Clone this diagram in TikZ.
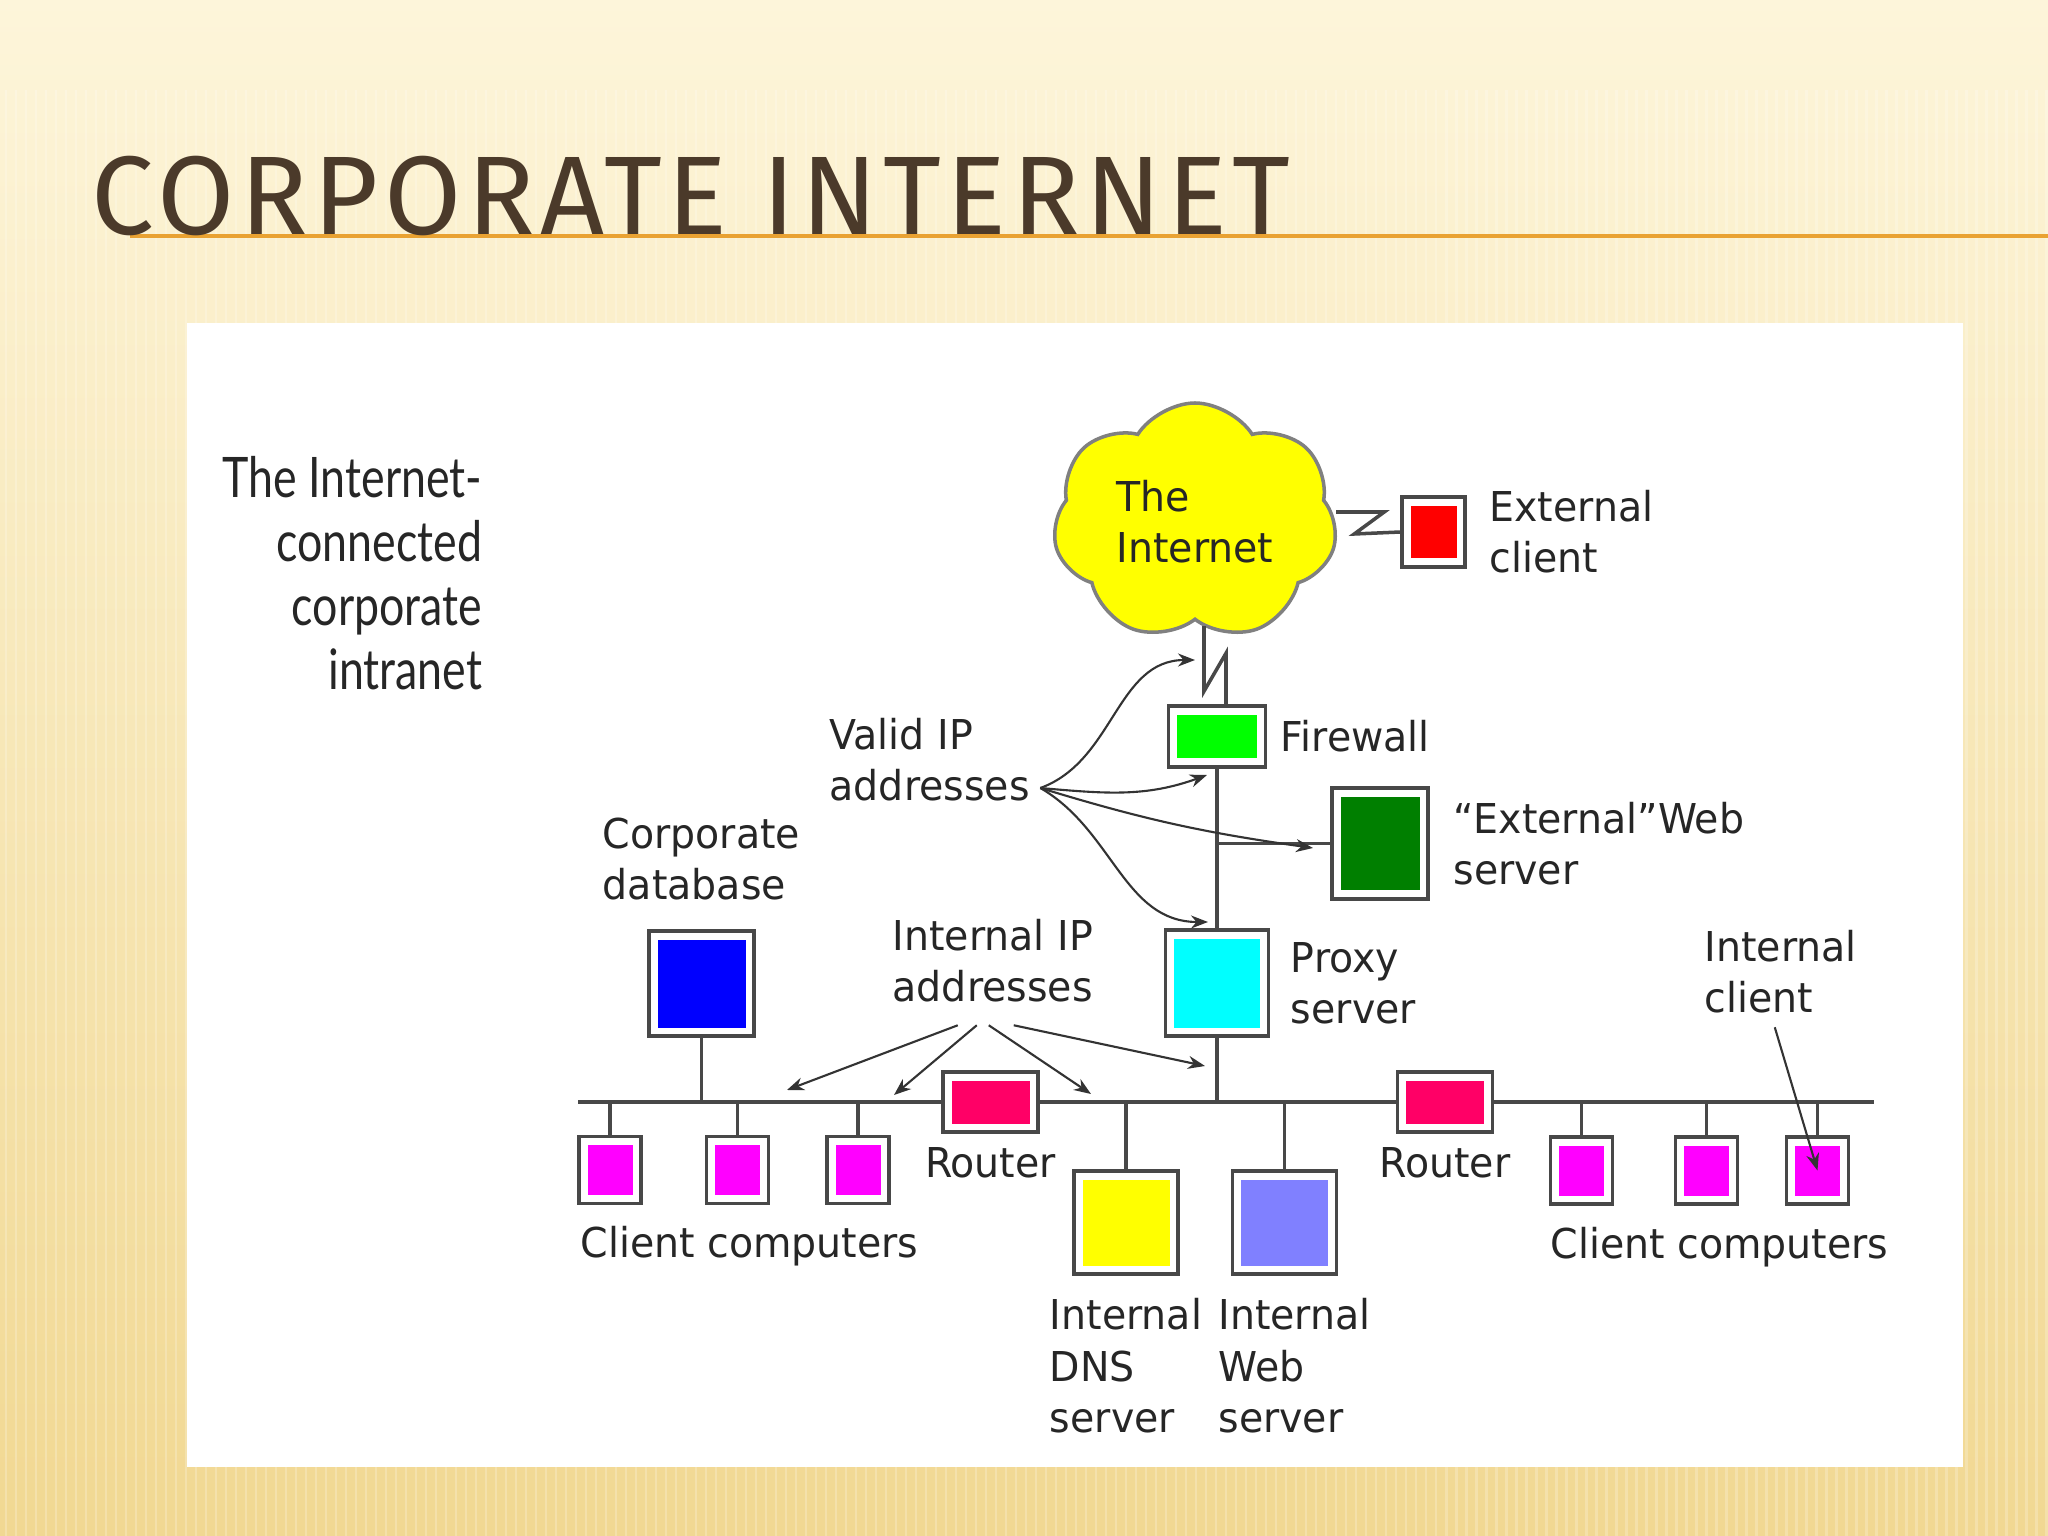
\documentclass[tikz,border=0pt]{standalone}
\usepackage{fontspec}
\setmainfont{DejaVu Sans}
\newfontfamily\diagfont[FakeStretch=0.96]{DejaVu Sans}
\newfontfamily\captfont[FakeStretch=0.8]{Lato}
\newfontfamily\headfont[LetterSpace=5]{Fira Sans}
\usetikzlibrary{positioning,shapes.symbols,arrows.meta}

\definecolor{wirecol}{HTML}{484848}
\definecolor{textcol}{HTML}{262626}
\definecolor{pccol}{HTML}{FF00FF}
\definecolor{routercol}{HTML}{FF0066}
\definecolor{proxycol}{HTML}{00FFFF}
\definecolor{dnscol}{HTML}{FFFF00}
\definecolor{dbcol}{HTML}{0000FF}
\definecolor{fwcol}{HTML}{00FF00}
\definecolor{extcol}{HTML}{FF0000}
\definecolor{webcol}{HTML}{8080FF}
\definecolor{extwebcol}{HTML}{007F00}
\definecolor{titlecol}{HTML}{4B3A2A}
\definecolor{rulecol}{HTML}{E9A232}
\definecolor{bgtop}{HTML}{FDF5DA}
\definecolor{bgmid}{HTML}{FAEABD}
\definecolor{bgbot}{HTML}{F1D892}

\begin{document}
\begin{tikzpicture}[
    host/.style={rectangle, draw=wirecol, line width=1pt, fill=white, inner sep=0pt,
        path picture={\fill[#1] ([shift={(0.085,0.085)}]path picture bounding box.south west)
            rectangle ([shift={(-0.085,-0.085)}]path picture bounding box.north east);}},
    pc/.style={host=pccol, minimum width=0.62cm, minimum height=0.67cm},
    router/.style={host=routercol, minimum width=0.95cm, minimum height=0.60cm},
    server/.style={host=#1, minimum width=1.04cm, minimum height=1.03cm},
    txt/.style={font=\diagfont\fontsize{11.7}{14.6}\selectfont, inner sep=0pt, align=left, text=textcol},
    capt/.style={font=\captfont\fontsize{15.9}{18.2}\selectfont, inner sep=0pt, align=right, text=textcol},
    cloudnode/.style={cloud, cloud puffs=7, cloud puff arc=115, cloud ignores aspect,
        minimum width=2.84cm, minimum height=2.38cm, fill=dnscol, draw=gray, line width=1pt,
        inner sep=0pt, align=left, font=\diagfont\fontsize{11.7}{14.6}\selectfont, text=textcol},
    wire/.style={draw=wirecol, line width=1pt},
    ptr/.style={-{Stealth[length=1.7mm, width=1.3mm]}, draw=black!80, line width=0.6pt}
]
\useasboundingbox (0,0) rectangle (20.48,-15.36);

% Slide background
\shade[top color=bgtop, middle color=bgmid, bottom color=bgbot] (0,0) rectangle (20.48,-15.36);
\foreach \x in {0.06,0.16,...,20.48}
    \draw[white, opacity=0.22, line width=0.8pt] (\x,-0.9) -- (\x,-15.36);
\draw[rulecol, line width=1.3pt] (1.30,-2.36) -- (20.48,-2.36);
\node[font=\headfont\fontsize{31.8}{32}\selectfont, text=titlecol, anchor=base west, inner sep=0pt]
    (title) at (0.91,-2.35) {CORPORATE INTERNET};
\fill[white] (1.87,-3.23) rectangle (19.63,-14.67);

% The Internet side
\node[cloudnode] (inet) at (11.95,-5.22) {The\\Internet};
\node[host=extcol, minimum width=0.63cm, minimum height=0.70cm] (extclient) at (14.335,-5.32) {};
\node[txt, right=0.22cm of extclient] (extclientlbl) {External\\client};

% Firewall, proxy and external web server
\node[host=fwcol, minimum width=0.97cm, minimum height=0.61cm] (firewall) at (12.17,-7.365) {};
\node[txt, right=0.13cm of firewall] (firewalllbl) {Firewall};
\node[host=extwebcol, minimum width=0.96cm, minimum height=1.11cm] (extweb) at (13.80,-8.435) {};
\node[txt, right=0.23cm of extweb] (extweblbl) {“External”Web\\server};
\node[host=proxycol, minimum width=1.03cm, minimum height=1.06cm] (proxy) at (12.17,-9.83) {};
\node[txt, right=0.2cm of proxy] (proxylbl) {Proxy\\server};

% Internal servers
\node[server=dbcol, minimum width=1.05cm, minimum height=1.05cm] (database) at (7.015,-9.835) {};
\node[txt, above=0.28cm of database] (databaselbl) {Corporate\\database};
\node[server=dnscol] (dns) at (11.26,-12.225) {};
\node[txt, below=0.22cm of dns] (dnslbl) {Internal\\DNS\\server};
\node[server=webcol] (intweb) at (12.845,-12.225) {};
\node[txt, below=0.22cm of intweb, xshift=0.1cm] (intweblbl) {Internal\\Web\\server};

% Backbone, routers and clients
\coordinate (bbL) at (5.78,-11.02);
\coordinate (bbR) at (18.74,-11.02);
\node[router] (router1) at (9.905,-11.02) {};
\node[txt, below=0.13cm of router1] (router1lbl) {Router};
\node[router] (router2) at (14.45,-11.02) {};
\node[txt, below=0.13cm of router2] (router2lbl) {Router};

\node[pc] (pcl1) at (6.10,-11.70) {};
\node[pc] (pcl2) at (7.375,-11.70) {};
\node[pc] (pcl3) at (8.58,-11.70) {};
\node[txt, anchor=west] (pcllbl) at (5.80,-12.46) {Client computers};
\node[pc] (pcr1) at (15.815,-11.705) {};
\node[pc] (pcr2) at (17.065,-11.705) {};
\node[pc] (pcr3) at (18.175,-11.705) {};
\node[txt, anchor=west] (pcrlbl) at (15.50,-12.47) {Client computers};
\node[txt, anchor=west] (intclientlbl) at (17.04,-9.72) {Internal\\client};

% Address labels and caption
\node[txt, anchor=west] (validip) at (8.29,-7.60) {Valid IP\\addresses};
\node[txt, anchor=west] (intip) at (8.92,-9.61) {Internal IP\\addresses};
\node[capt, anchor=east] (caption) at (4.83,-5.73) {The Internet-\\connected\\corporate\\intranet};

% Links
\draw[wire] ([yshift=0.1cm]inet.east) -- ++(0.48,0) -- ++(-0.3,-0.22) -- (extclient.west);
\draw[wire] ([xshift=0.09cm]firewall.north) -- ++(0,0.51) -- ++(-0.22,-0.38)
    -- ([xshift=-0.13cm]firewall.north |- inet.-86);
\draw[wire] (firewall.south) -- (proxy.north);
\draw[wire] (extweb.west) -- (extweb.west -| firewall.south);
\draw[wire] (proxy.south) -- (proxy.south |- bbL);
\draw[wire] (database.south) -- (database.south |- bbL);
\draw[wire] (bbL) -- (router1.west);
\draw[wire] (router1.east) -- (router2.west);
\draw[wire] (router2.east) -- (bbR);
\foreach \n in {pcl1,pcl2,pcl3,pcr1,pcr2,pcr3,dns,intweb}
    \draw[wire] (\n.north) -- (\n.north |- bbL);

% Valid IP pointers
\coordinate (vsrc) at ([xshift=0.1cm,yshift=-0.28cm]validip.east);
\coordinate (vpa) at (11.95,-6.60);
\coordinate (vpb) at (12.07,-7.75);
\coordinate (vpc) at (13.13,-8.48);
\coordinate (vpd) at (12.08,-9.22);
\draw[ptr] (vsrc) to[out=20, in=180] (vpa);
\draw[ptr] (vsrc) to[out=-5, in=200] (vpb);
\draw[ptr] (vsrc) to[out=-17, in=172] (vpc);
\draw[ptr] (vsrc) to[out=-30, in=180] (vpd);

% Internal IP pointers
\coordinate (ipa) at (7.87,-10.90);
\coordinate (ipb) at (8.94,-10.95);
\coordinate (ipc) at (10.91,-10.94);
\coordinate (ipd) at (12.05,-10.66);
\draw[ptr] ([xshift=-0.35cm,yshift=-0.22cm]intip.south) -- (ipa);
\draw[ptr] ([xshift=-0.16cm,yshift=-0.22cm]intip.south) -- (ipb);
\draw[ptr] ([xshift=-0.04cm,yshift=-0.22cm]intip.south) -- (ipc);
\draw[ptr] ([xshift=0.21cm,yshift=-0.22cm]intip.south) -- (ipd);

% Internal client pointer
\draw[ptr] ([xshift=-0.06cm,yshift=-0.13cm]intclientlbl.south) -- (pcr3.center);

\end{tikzpicture}
\end{document}
